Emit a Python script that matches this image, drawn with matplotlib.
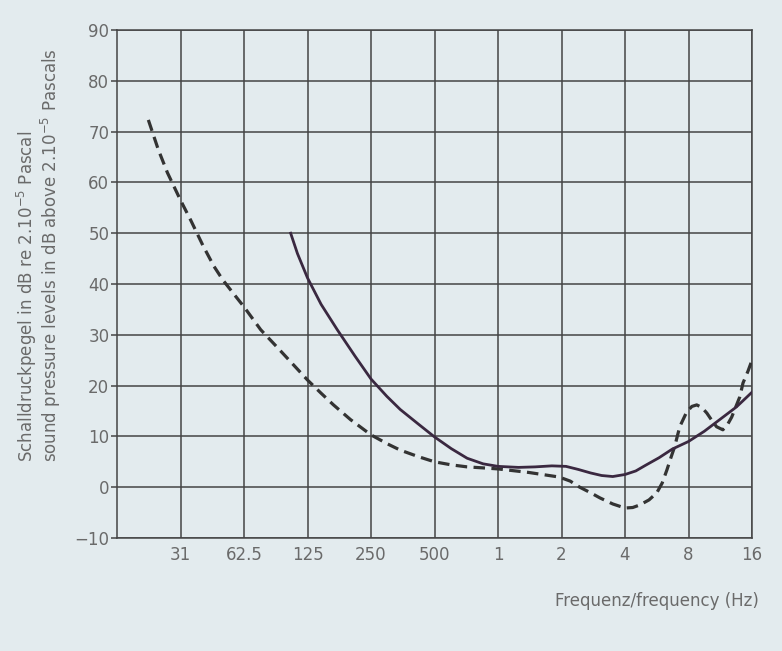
import matplotlib
matplotlib.use("Agg")
import matplotlib.pyplot as plt

# Data (frequency in Hz, level in dB)
solid_freq = [104, 112, 125, 145, 173, 210, 250, 297, 344, 420, 500, 600, 714, 850, 1000, 1250, 1500, 1800,
              2100, 2400, 2750, 3100, 3500, 4000, 4500, 5000, 5800, 6700, 8000, 9500, 11000, 13500, 16000]
solid_db = [50.0, 46.0, 41.2, 36.0, 31.0, 25.8, 21.3, 17.9, 15.3, 12.4, 9.9, 7.6, 5.7, 4.6, 4.1, 3.9, 4.0, 4.2,
            4.1, 3.5, 2.8, 2.3, 2.1, 2.5, 3.2, 4.3, 5.8, 7.5, 9.0, 11.0, 13.0, 15.8, 18.7]

dashed_freq = [22.0, 24.5, 27.1, 31.25, 35, 40, 45, 49.6, 56, 62.5, 75, 90, 105, 125, 145, 166, 200, 250, 300,
               344, 420, 500, 600, 714, 850, 1000, 1400, 1950, 2200, 2440, 2750, 3040, 3500, 4000, 4350, 4700,
               5200, 5660, 6000, 6320, 6600, 6880, 7270, 7840, 8300, 8750, 9250, 9770, 10300, 10870, 11640,
               12200, 12820, 14010, 14500, 15300, 16000]
dashed_db = [72.3, 66.5, 61.9, 56.5, 52.5, 47.5, 43.5, 40.8, 38.0, 35.5, 31.0, 27.5, 24.5, 21.1, 18.5, 16.2, 13.3,
             10.3, 8.5, 7.3, 6.0, 5.0, 4.4, 4.0, 3.8, 3.6, 2.9, 2.0, 1.2, 0.0, -1.1, -2.1, -3.3, -4.1, -4.0, -3.5,
             -2.5, -1.1, 0.8, 3.4, 5.8, 8.0, 11.9, 14.8, 15.9, 16.2, 15.7, 14.6, 13.2, 11.9, 11.3,
             12.2, 13.8, 17.8, 20.5, 22.8, 25.0]

x_ticks = [31.25, 62.5, 125, 250, 500, 1000, 2000, 4000, 8000, 16000]
x_ticklabels = ["31", "62.5", "125", "250", "500", "1", "2", "4", "8", "16"]
y_ticks = [-10, 0, 10, 20, 30, 40, 50, 60, 70, 80, 90]
y_ticklabels = ["\u221210", "0", "10", "20", "30", "40", "50", "60", "70", "80", "90"]

bg = "#e3ebee"
grid_c = "#454545"
text_c = "#6a6a6a"

plt.rcParams['font.family'] = ['DejaVu Sans']

fig = plt.figure(figsize=(7.82, 6.51), dpi=100, facecolor=bg)
ax = fig.add_axes([117/782, 1-538/651, (752-117)/782, (538-30)/651])
ax.set_facecolor(bg)

ax.set_xscale('log', base=2)
ax.set_xlim(15.625, 16000)
ax.set_ylim(-10, 90)

ax.set_xticks(x_ticks)
ax.set_xticklabels(x_ticklabels)
ax.set_yticks(y_ticks)
ax.set_yticklabels(y_ticklabels)
ax.minorticks_off()

ax.grid(True, color=grid_c, linewidth=1.1)
ax.set_axisbelow(True)
for s in ax.spines.values():
    s.set_color(grid_c)
    s.set_linewidth(1.1)

ax.tick_params(axis='both', colors=grid_c, labelcolor=text_c, labelsize=12, width=1.1)
ax.tick_params(axis='x', length=0, pad=6)
ax.tick_params(axis='y', length=4.5, pad=1)

ax.plot(dashed_freq, dashed_db, color="#333333", linewidth=2.3, linestyle=(0, (3.6, 2.0)), zorder=3)
ax.plot(solid_freq, solid_db, color="#3a2840", linewidth=2.0, zorder=4)

fig.text(39/782, 1-462/651,
         "Schalldruckpegel in dB re 2.10$^{-5}$ Pascal\nsound pressure levels in dB above 2.10$^{-5}$ Pascals",
         rotation=90, ha='center', va='bottom', multialignment='left',
         fontsize=12, color=text_c, linespacing=1.0)
fig.text(759/782, 1-601/651, "Frequenz/frequency (Hz)", ha='right', va='center', fontsize=12, color=text_c)

fig.savefig("out.png", dpi=100, facecolor=bg)
